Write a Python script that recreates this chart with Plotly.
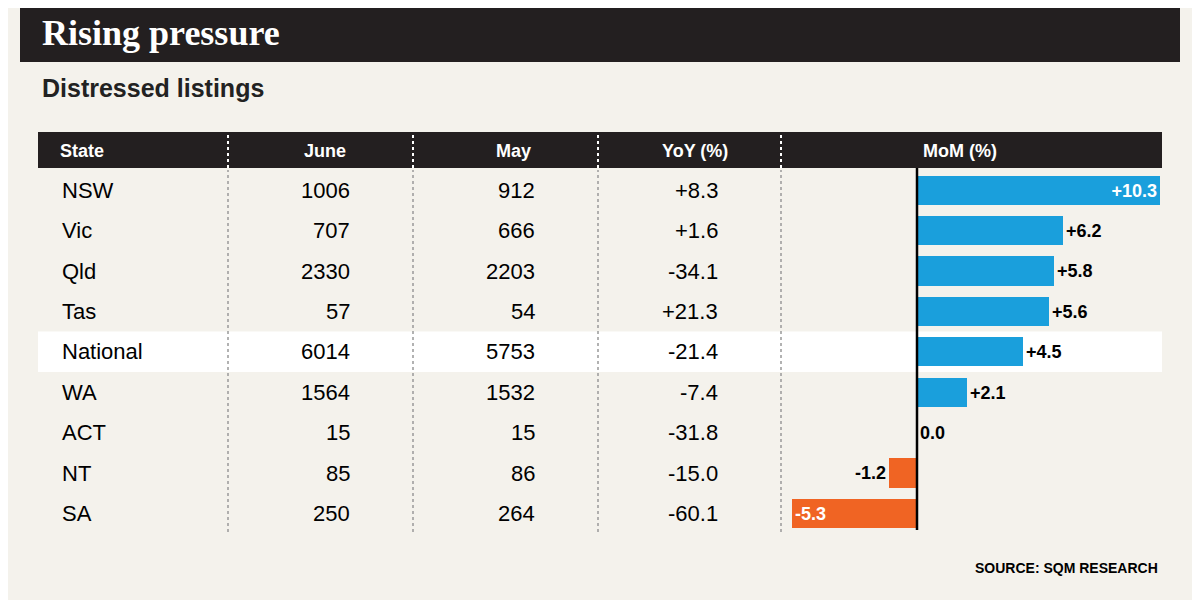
import plotly.graph_objects as go

states = ["NSW", "Vic", "Qld", "Tas", "National", "WA", "ACT", "NT", "SA"]
june = [1006, 707, 2330, 57, 6014, 1564, 15, 85, 250]
may = [912, 666, 2203, 54, 5753, 1532, 15, 86, 264]
yoy = ["+8.3", "+1.6", "-34.1", "+21.3", "-21.4", "-7.4", "-31.8", "-15.0", "-60.1"]
mom = [10.3, 6.2, 5.8, 5.6, 4.5, 2.1, 0.0, -1.2, -5.3]
headers = ["State", "June", "May", "YoY (%)", "MoM (%)"]

W, H = 1200, 600
OFF = 8  # page body margin
BLUE, ORANGE = "#1a9fdc", "#f06423"
FONT = "Liberation Sans"

def py(p):  # pixel y -> paper
    return 1 - (p - OFF) / H

def px(p):
    return (p - OFF) / W

row_top, row_h = 170, 40.4
fig = go.Figure()

mom_txt = [("+%.1f" % v if v > 0 else "%.1f" % v) for v in mom]
pos = ["inside" if abs(v) > 8 or v < -3 else "outside" for v in mom]
tcol = ["white" if p == "inside" else "black" for p in pos]
fig.add_trace(go.Bar(
    x=mom, y=states, orientation="h", width=0.72,
    marker=dict(color=[BLUE if v >= 0 else ORANGE for v in mom], line=dict(width=0)),
    text=["<b>%s</b>" % t for t in mom_txt], textposition=pos,
    insidetextanchor="end", textfont=dict(family=FONT, size=18, color=tcol),
    cliponaxis=False, hoverinfo="skip"))

shapes = [
    dict(type="rect", xref="paper", yref="paper", x0=0, x1=1, y0=0, y1=1,
         fillcolor="#f4f2ec", line_width=0, layer="below"),
    dict(type="rect", xref="paper", yref="paper", x0=px(20), x1=px(1180),
         y0=py(62), y1=py(4), fillcolor="#231f20", line_width=0, layer="below"),
    dict(type="rect", xref="paper", yref="paper", x0=px(38), x1=px(1162),
         y0=py(168), y1=py(132), fillcolor="#231f20", line_width=0, layer="below"),
    dict(type="rect", xref="paper", yref="paper", x0=px(38), x1=px(1162),
         y0=py(row_top + 5 * row_h), y1=py(row_top + 4 * row_h),
         fillcolor="white", line_width=0, layer="below"),
    dict(type="line", xref="x", yref="paper", x0=0, x1=0,
         y0=py(530), y1=py(168), line=dict(color="black", width=2.5)),
]
for xd in [228, 413, 598, 781]:
    shapes.append(dict(type="line", xref="paper", yref="paper", x0=px(xd), x1=px(xd),
                       y0=py(168), y1=py(132), line=dict(color="white", width=2, dash="dot")))
    shapes.append(dict(type="line", xref="paper", yref="paper", x0=px(xd), x1=px(xd),
                       y0=py(532), y1=py(170), line=dict(color="#999999", width=1.5, dash="dot")))

ann = []
def t(x, y, s, anchor="left", size=22, color="black", bold=False):
    ann.append(dict(xref="paper", yref="paper", x=px(x), y=py(y), text="<b>%s</b>" % s if bold else s,
                    showarrow=False, xanchor=anchor, yanchor="middle",
                    font=dict(family=FONT, size=size, color=color)))

ann.append(dict(xref="paper", yref="paper", x=px(40), y=py(33), text="<b>Rising pressure</b>",
                showarrow=False, xanchor="left", yanchor="middle",
                font=dict(family="Liberation Serif", size=36, color="white")))
t(40, 88, "Distressed listings", size=25, bold=True, color="#222")
hx = [(58, "left"), (348, "right"), (533, "right"), (730, "right"), (960, "center")]
for (x, a), h in zip(hx, headers):
    t(x, 151, h, anchor=a, size=18, color="white", bold=True)
for i, s in enumerate(states):
    yc = row_top + row_h * (i + 0.5)
    t(60, yc, s)
    t(352, yc, str(june[i]), anchor="right")
    t(537, yc, str(may[i]), anchor="right")
    t(720, yc, yoy[i], anchor="right")
t(1160, 568, "SOURCE: SQM RESEARCH", anchor="right", size=14, bold=True)

fig.update_layout(
    width=W, height=H, margin=dict(l=0, r=0, t=0, b=0),
    paper_bgcolor="#ffffff", plot_bgcolor="rgba(0,0,0,0)",
    showlegend=False, shapes=shapes, annotations=ann, bargap=0,
    xaxis=dict(domain=[px(782), px(1162)], range=[-(917 - 782) / 23.6, (1162 - 917) / 23.6],
               visible=False, fixedrange=True),
    yaxis=dict(domain=[py(row_top + 9 * row_h), py(row_top)], range=[8.5, -0.5],
               visible=False, fixedrange=True),
)
fig.write_html("out.html")
